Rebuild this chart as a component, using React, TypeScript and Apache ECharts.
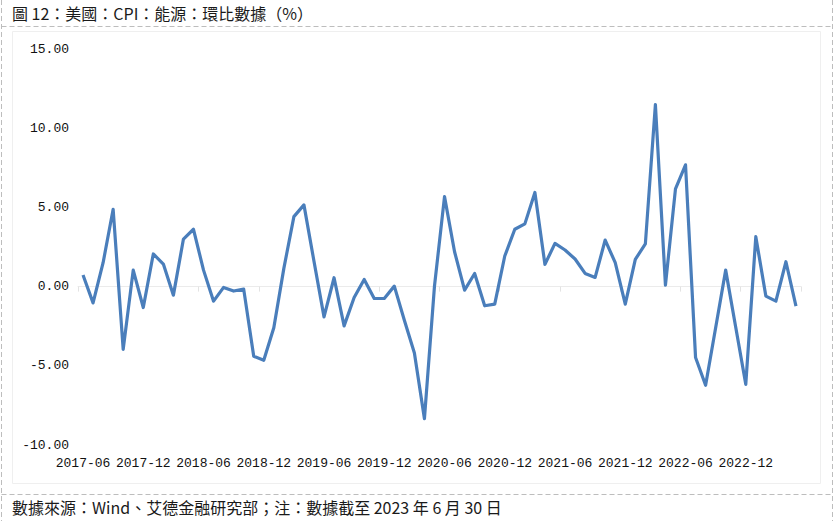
import React, { useEffect, useRef } from "react";
import * as echarts from "echarts";

const titleText = "圖 12：美國：CPI：能源：環比數據（%）";
const footerText = "數據來源：Wind、艾德金融研究部；注：數據截至 2023 年 6 月 30 日";

const months: string[] = [
  "2017-06","2017-07","2017-08","2017-09","2017-10","2017-11","2017-12",
  "2018-01","2018-02","2018-03","2018-04","2018-05","2018-06","2018-07","2018-08","2018-09","2018-10","2018-11","2018-12",
  "2019-01","2019-02","2019-03","2019-04","2019-05","2019-06","2019-07","2019-08","2019-09","2019-10","2019-11","2019-12",
  "2020-01","2020-02","2020-03","2020-04","2020-05","2020-06","2020-07","2020-08","2020-09","2020-10","2020-11","2020-12",
  "2021-01","2021-02","2021-03","2021-04","2021-05","2021-06","2021-07","2021-08","2021-09","2021-10","2021-11","2021-12",
  "2022-01","2022-02","2022-03","2022-04","2022-05","2022-06","2022-07","2022-08","2022-09","2022-10","2022-11","2022-12",
  "2023-01","2023-02","2023-03","2023-04","2023-05",
];

const energyMoM: number[] = [
  0.73, -1.03, 1.51, 4.88, -3.96, 1.04, -1.32,
  2.06, 1.42, -0.54, 3.0, 3.62, 1.04, -0.92, -0.05, -0.28, -0.16, -4.4, -4.65,
  -2.6, 1.15, 4.42, 5.16, 1.6, -1.91, 0.56, -2.48, -0.69, 0.45, -0.75, -0.75,
  0.03, -2.12, -4.19, -8.34, 0.03, 5.68, 2.2, -0.22, 0.83, -1.21, -1.11, 1.93,
  3.62, 3.96, 5.94, 1.4, 2.73, 2.31, 1.74, 0.83, 0.58, 2.94, 1.51, -1.11,
  1.72, 2.69, 11.49, 0.09, 6.17, 7.69, -4.48, -6.23, -2.6, 1.04, -2.57, -6.17,
  3.15, -0.6, -0.92, 1.57, -1.23,
];

const yMin = -10;
const yMax = 15;
const yStep = 5;

export default function App() {
  const ref = useRef<HTMLDivElement>(null);
  useEffect(() => {
    if (!ref.current) return;
    const chart = echarts.init(ref.current, undefined, { renderer: "svg" });
    const dash = { stroke: "#bdbdbd", lineWidth: 1, lineDash: [5, 3] };
    const labelFont = "'Liberation Mono', 'DejaVu Sans Mono', monospace";
    const cjkFont = "'Noto Sans CJK TC', 'Noto Sans CJK SC', sans-serif";
    chart.setOption({
      animation: false,
      backgroundColor: "#ffffff",
      grid: { left: 78, right: 33, top: 49, bottom: 76 },
      xAxis: [
        {
          type: "category",
          data: months,
          boundaryGap: true,
          position: "bottom",
          axisLine: { show: false, onZero: false },
          axisTick: { show: false },
          axisLabel: {
            interval: 5,
            margin: 12,
            color: "#111",
            fontSize: 13,
            fontFamily: labelFont,
          },
          splitLine: { show: false },
        },
        {
          type: "category",
          data: months,
          boundaryGap: true,
          position: "bottom",
          axisLine: { show: true, onZero: true, lineStyle: { color: "#ebebeb", width: 1 } },
          axisTick: { show: true, interval: 5, length: 5, lineStyle: { color: "#e3e3e3" } },
          axisLabel: { show: false },
          splitLine: { show: false },
        },
      ],
      yAxis: {
        type: "value",
        min: yMin,
        max: yMax,
        interval: yStep,
        axisLine: { show: false },
        axisTick: { show: false },
        splitLine: { show: false },
        axisLabel: {
          margin: 9,
          color: "#111",
          fontSize: 13,
          fontFamily: labelFont,
          formatter: (v: number) => v.toFixed(2),
        },
      },
      series: [
        {
          type: "line",
          xAxisIndex: 0,
          data: energyMoM,
          symbol: "none",
          lineStyle: { color: "#4a7ebb", width: 3.2, join: "round" },
          itemStyle: { color: "#4a7ebb" },
        },
      ],
      graphic: [
        { type: "line", shape: { x1: 1.5, y1: 0, x2: 1.5, y2: 521 }, style: dash, silent: true },
        { type: "line", shape: { x1: 832.5, y1: 0, x2: 832.5, y2: 521 }, style: dash, silent: true },
        { type: "line", shape: { x1: 1.5, y1: 26.5, x2: 832.5, y2: 26.5 }, style: dash, silent: true },
        { type: "line", shape: { x1: 1.5, y1: 494.5, x2: 832.5, y2: 494.5 }, style: dash, silent: true },
        {
          type: "rect",
          shape: { x: 12.5, y: 31.5, width: 808, height: 452 },
          style: { fill: "none", stroke: "#efefef", lineWidth: 1 },
          silent: true,
          z: -1,
        },
        {
          type: "text",
          x: 12,
          y: 13,
          style: {
            text: titleText,
            fill: "#1a1a1a",
            font: `16px ${cjkFont}`,
            verticalAlign: "middle",
            align: "left",
          },
        },
        {
          type: "text",
          x: 12,
          y: 507,
          style: {
            text: footerText,
            fill: "#1a1a1a",
            font: `16px ${cjkFont}`,
            verticalAlign: "middle",
            align: "left",
          },
        },
      ],
    });
    return () => chart.dispose();
  }, []);
  return (
    <div
      ref={ref}
      style={{ position: "fixed", left: 0, top: 0, width: 834, height: 521 }}
    />
  );
}
